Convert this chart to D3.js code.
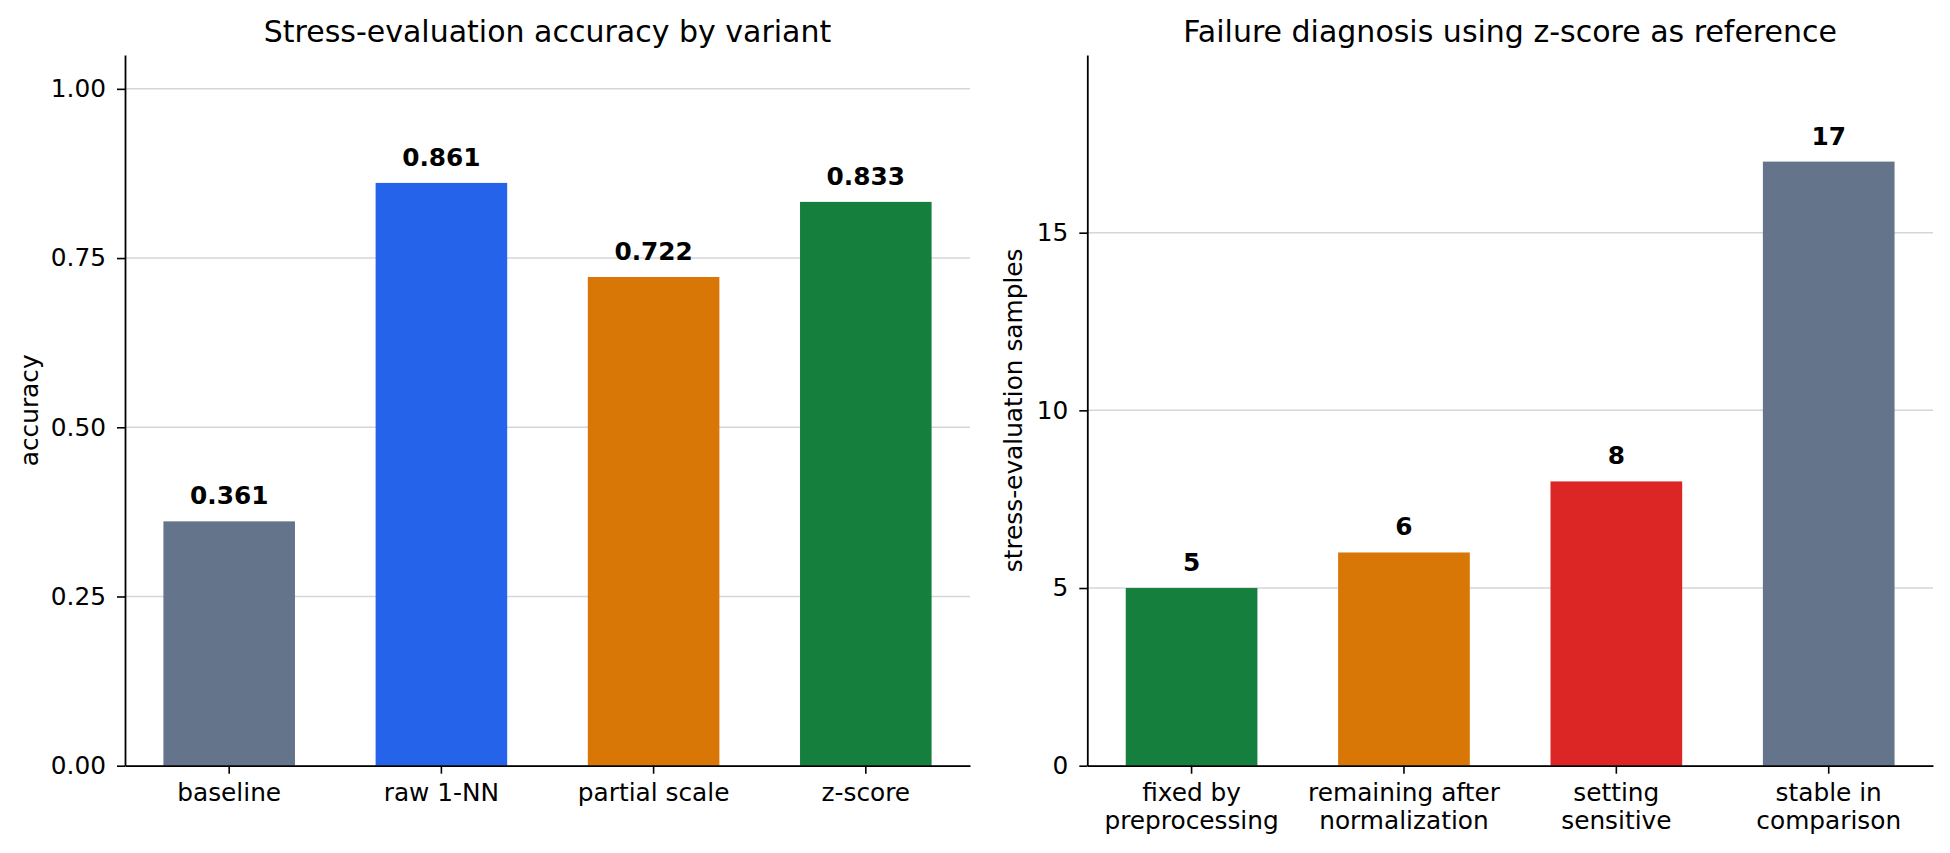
<!DOCTYPE html>
<html>
<head>
<meta charset="utf-8">
<script src="https://cdn.jsdelivr.net/npm/d3@7"></script>
<style>
  body { margin: 0; background: #ffffff; }
  svg { display: block; font-family: "DejaVu Sans", sans-serif; }
</style>
</head>
<body>
<div id="chart"></div>
<script>
// Left panel: accuracy per variant
const variantLabels = ["baseline", "raw 1-NN", "partial scale", "z-score"];
const variantAccuracy = [0.361, 0.861, 0.722, 0.833];
const accuracyTicks = [0, 0.25, 0.5, 0.75, 1.0];

// Right panel: failure diagnosis counts
const diagnosisLabels = [
  ["fixed by", "preprocessing"],
  ["remaining after", "normalization"],
  ["setting", "sensitive"],
  ["stable in", "comparison"]
];
const diagnosisCounts = [5, 6, 8, 17];
const countTicks = [0, 5, 10, 15];

// Palettes
const variantColors = ["#64748b", "#2563eb", "#d97706", "#15803d"];
const diagnosisColors = ["#15803d", "#d97706", "#dc2626", "#64748b"];

const width = 1950, height = 853;
const labelSize = 24.8;

const svg = d3.select("#chart").append("svg")
  .attr("width", width)
  .attr("height", height);

function drawPanel(cfg) {
  const g = svg.append("g");

  // Scales
  const x = d3.scaleBand()
    .domain(d3.range(cfg.values.length))
    .range([cfg.left, cfg.right])
    .paddingInner(0.38)
    .paddingOuter(0.181);

  const y = d3.scaleLinear()
    .domain(cfg.yDomain)
    .range([765.7, 55]);

  // Grid lines behind bars
  g.append("g")
    .selectAll("line")
    .data(cfg.ticks)
    .enter()
    .append("line")
    .attr("x1", cfg.left)
    .attr("x2", cfg.right)
    .attr("y1", d => y(d))
    .attr("y2", d => y(d))
    .attr("stroke", "#d3d6dd")
    .attr("stroke-width", 1.5);

  // Bars
  g.append("g")
    .selectAll("rect")
    .data(cfg.values)
    .enter()
    .append("rect")
    .attr("x", (d, i) => x(i))
    .attr("width", x.bandwidth())
    .attr("y", d => y(d))
    .attr("height", d => y(0) - y(d))
    .attr("fill", (d, i) => cfg.colors[i]);

  // Value labels above bars
  g.append("g")
    .selectAll("text")
    .data(cfg.values)
    .enter()
    .append("text")
    .attr("x", (d, i) => x(i) + x.bandwidth() / 2)
    .attr("y", d => y(d) - 17)
    .attr("text-anchor", "middle")
    .attr("font-size", labelSize)
    .attr("font-weight", "bold")
    .attr("fill", "#000")
    .text(d => cfg.valueFormat(d));

  // Y axis
  const yAxis = g.append("g")
    .attr("transform", `translate(${cfg.left},0)`)
    .call(d3.axisLeft(y)
      .tickValues(cfg.ticks)
      .tickFormat(cfg.tickFormat)
      .tickSize(8)
      .tickSizeOuter(0)
      .tickPadding(11));

  // X axis
  const xAxis = g.append("g")
    .attr("transform", `translate(0,${y(0)})`)
    .call(d3.axisBottom(x)
      .tickSize(8)
      .tickSizeOuter(0)
      .tickPadding(11)
      .tickFormat(""));

  [yAxis, xAxis].forEach(ax => {
    ax.select(".domain").attr("stroke", "#000").attr("stroke-width", 1.8);
    ax.selectAll(".tick line").attr("stroke", "#000").attr("stroke-width", 1.6);
    ax.selectAll(".tick text").attr("font-size", labelSize).attr("fill", "#000")
      .attr("font-family", "DejaVu Sans, sans-serif");
  });

  // Multi-line category labels
  xAxis.selectAll(".tick text")
    .each(function(d) {
      const lines = [].concat(cfg.labels[d]);
      const t = d3.select(this).text(null).attr("dy", null).attr("y", 35.5);
      lines.forEach((line, k) => {
        t.append("tspan")
          .attr("x", 0)
          .attr("dy", k === 0 ? 0 : 27.5)
          .text(line);
      });
    });

  // Y axis label
  g.append("text")
    .attr("transform", `translate(${cfg.yLabelX},${(y.range()[0] + y.range()[1]) / 2}) rotate(-90)`)
    .attr("text-anchor", "middle")
    .attr("font-size", labelSize)
    .attr("fill", "#000")
    .text(cfg.yLabel);

  // Title
  g.append("text")
    .attr("x", (cfg.left + cfg.right) / 2)
    .attr("y", 41.7)
    .attr("text-anchor", "middle")
    .attr("font-size", 30)
    .attr("fill", "#000")
    .text(cfg.title);
}

drawPanel({
  left: 125, right: 970,
  values: variantAccuracy,
  labels: variantLabels,
  colors: variantColors,
  yDomain: [0, 1.05],
  ticks: accuracyTicks,
  tickFormat: d3.format(".2f"),
  valueFormat: d3.format(".3f"),
  yLabel: "accuracy",
  yLabelX: 37.7,
  title: "Stress-evaluation accuracy by variant"
});

drawPanel({
  left: 1087.3, right: 1933,
  values: diagnosisCounts,
  labels: diagnosisLabels,
  colors: diagnosisColors,
  yDomain: [0, 20],
  ticks: countTicks,
  tickFormat: d3.format("d"),
  valueFormat: d3.format("d"),
  yLabel: "stress-evaluation samples",
  yLabelX: 1022.3,
  title: "Failure diagnosis using z-score as reference"
});
</script>
</body>
</html>
